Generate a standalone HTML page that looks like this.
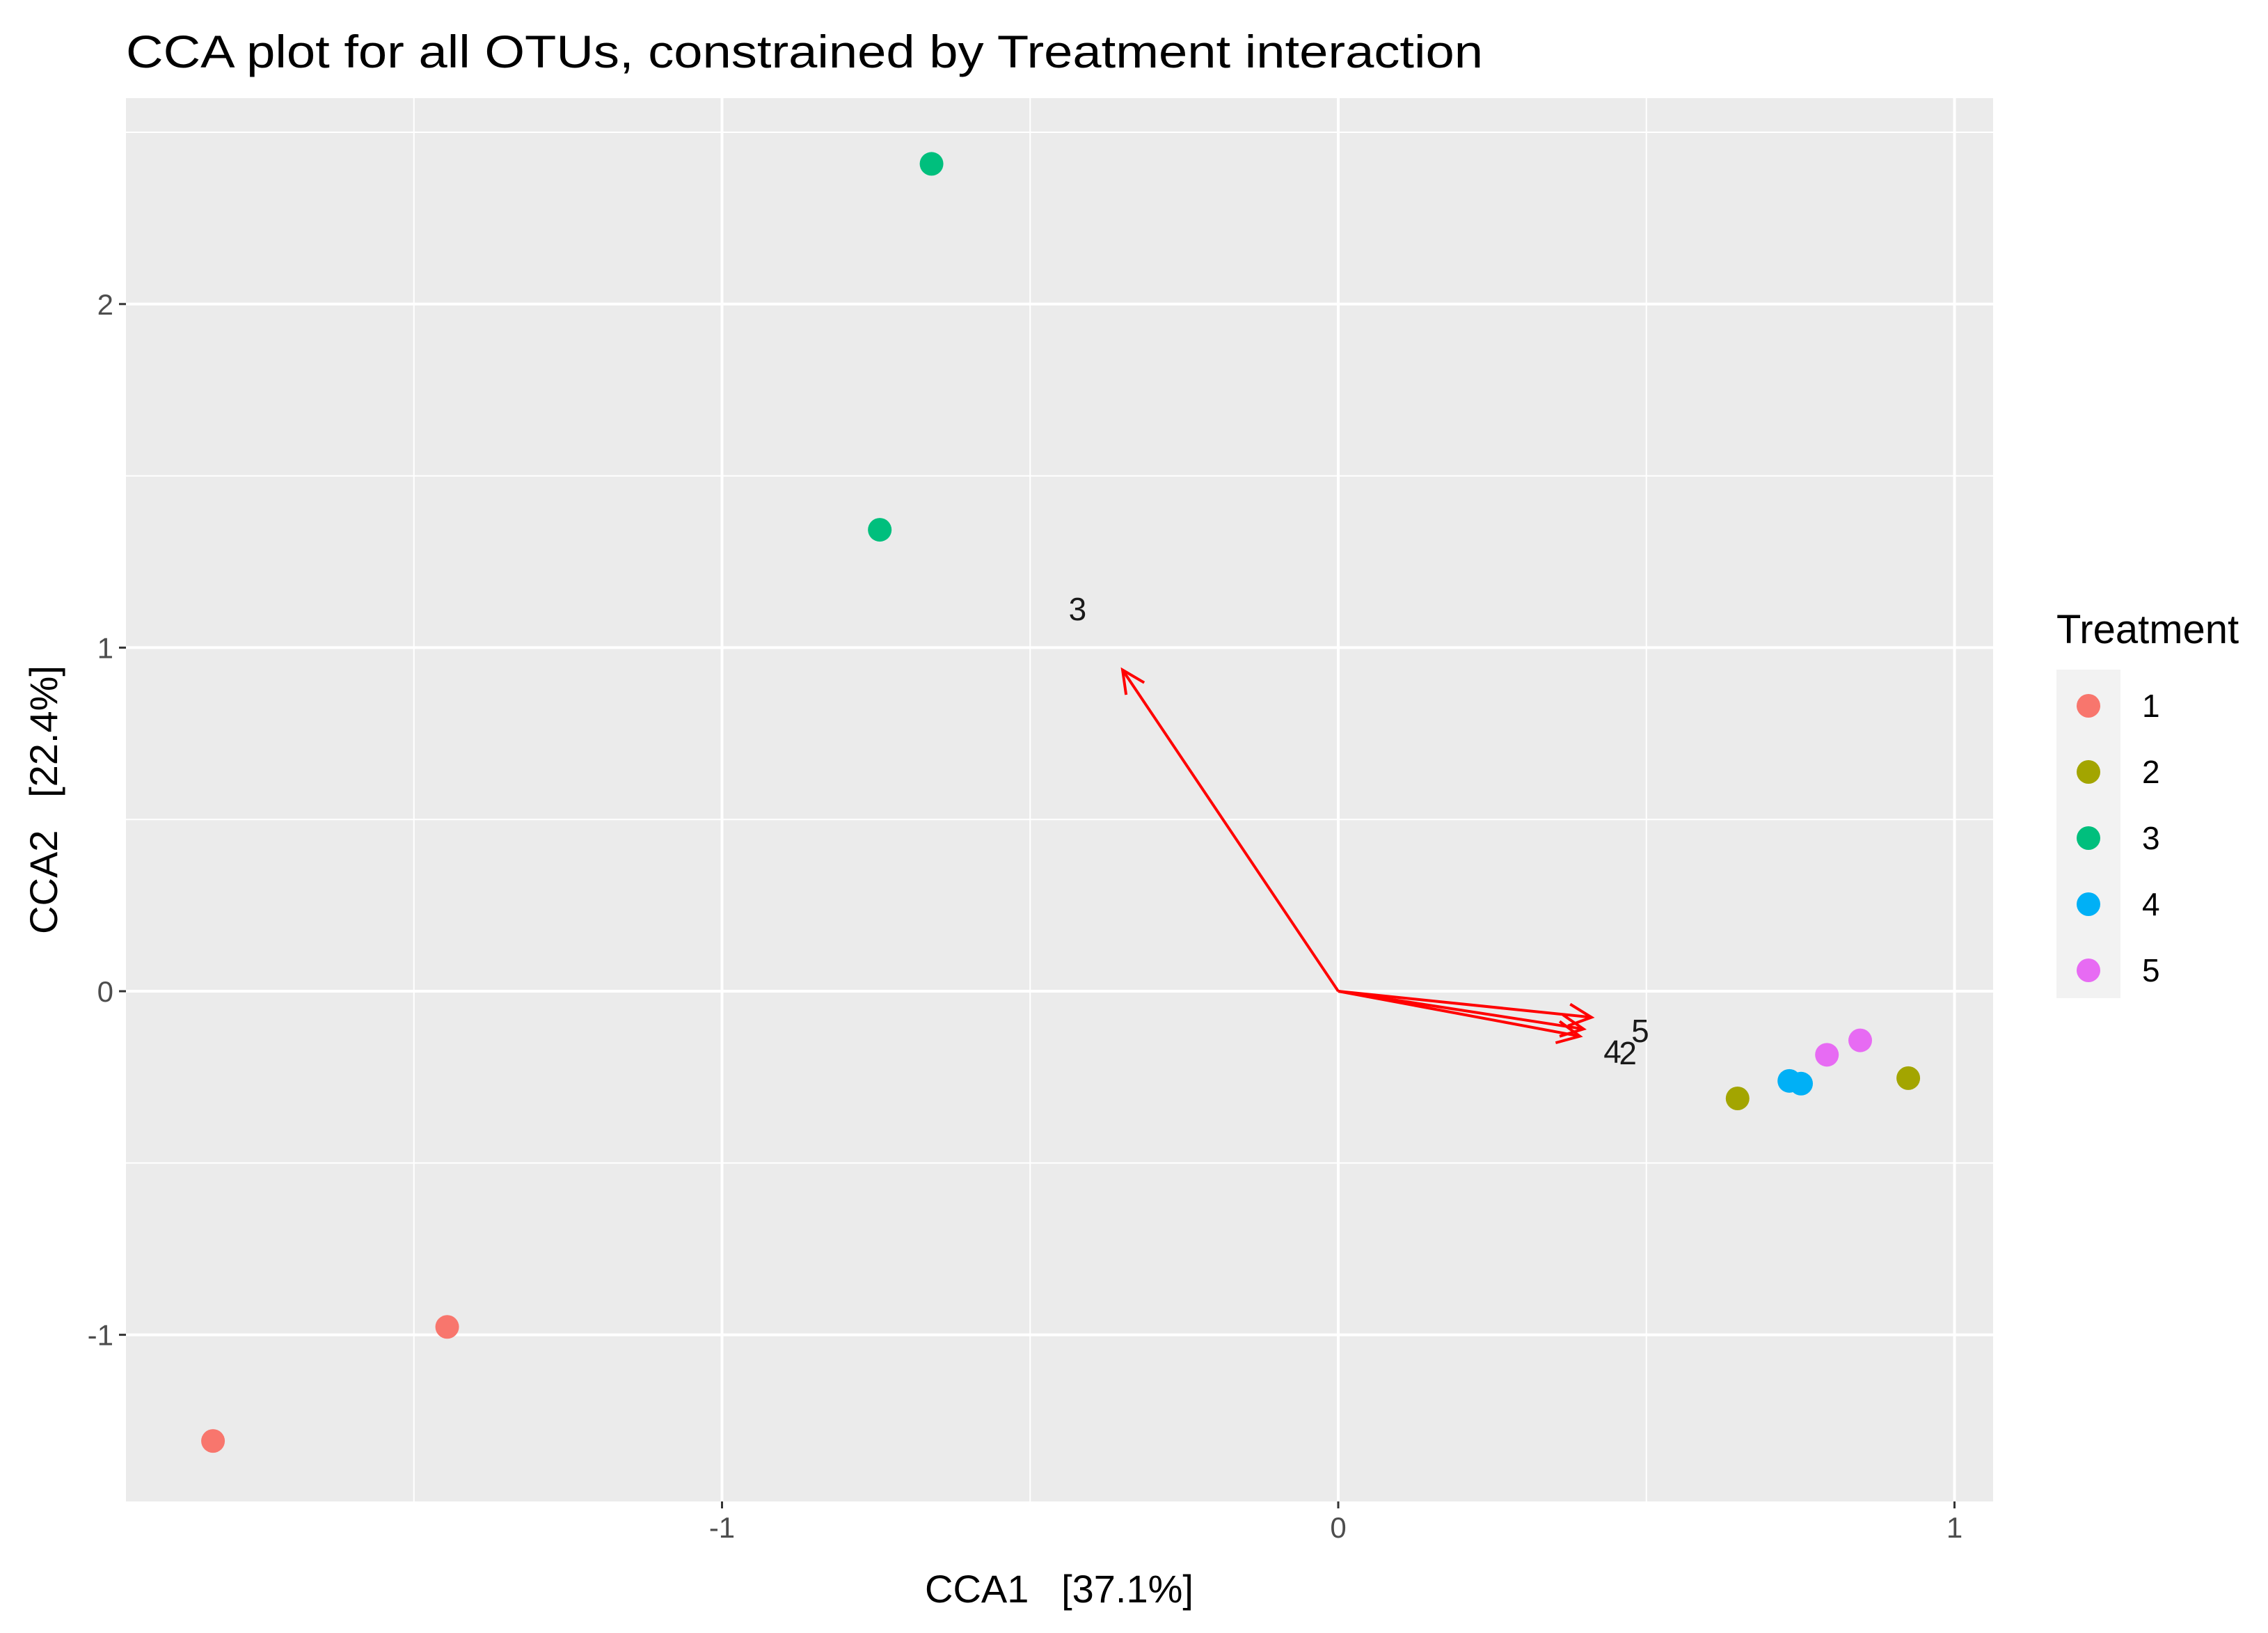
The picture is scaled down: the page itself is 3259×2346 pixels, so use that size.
<!DOCTYPE html>
<html><head><meta charset="utf-8"><style>
html,body{margin:0;padding:0;background:#fff;}
svg{display:block;font-family:"Liberation Sans",Arial,sans-serif;}
.pre{white-space:pre;}
</style></head><body>
<svg id="chart" width="3259" height="2346" viewBox="0 0 3259 2346" xmlns="http://www.w3.org/2000/svg">
<rect width="3259" height="2346" fill="#fff"/>
<text x="181" y="97" font-size="66" textLength="1950" lengthAdjust="spacingAndGlyphs" fill="#000">CCA plot for all OTUs, constrained by Treatment interaction</text>
<rect x="181" y="141" width="2683" height="2016" fill="#ebebeb"/>
<g id="grid"></g>
<g id="arrows"></g>
<g id="points"></g>
<g id="axes"></g>
<text class="pre" x="1522" y="2302" font-size="56" text-anchor="middle" fill="#000">CCA1   [37.1%]</text>
<text class="pre" transform="translate(82,1149) rotate(-90)" font-size="56" text-anchor="middle" fill="#000">CCA2   [22.4%]</text>
<text x="2955" y="924" font-size="58" fill="#000">Treatment</text>
<rect x="2955" y="962" width="92" height="472" fill="#f2f2f2"/>
<g id="legend"></g>
</svg>
<script>
const categories = ["1","2","3","4","5"];
const colors = ["#F8766D","#A3A500","#00BF7D","#00B0F6","#E76BF3"];
const ptX = [-1.446,-1.826, 0.648,0.925, -0.660,-0.744, 0.732,0.751, 0.793,0.847];
const ptY = [-0.977,-1.309, -0.312,-0.253, 2.408,1.343, -0.261,-0.269, -0.185,-0.143];
const ptGroup = ["1","1","2","2","3","3","4","4","5","5"];
const arrowNames = ["3","5","4","2"];
const arrowX = [-0.350,0.411,0.392,0.398];
const arrowY = [0.935,-0.076,-0.131,-0.110];
const labelX = [-0.423,0.490,0.445,0.470];
const labelY = [1.112,-0.115,-0.175,-0.180];
const xTicks = [-1,0,1];
const yTicks = [-1,0,1,2];
const xMinor = [-1.5,-0.5,0.5];
const yMinor = [-0.5,0.5,1.5,2.5];

const NS="http://www.w3.org/2000/svg";
const X0=1923, XU=885.5, Y0=1424, YU=493.6;
const L=181,R=2864,T=141,B=2157;
function sx(v){return X0+v*XU;}
function sy(v){return Y0-v*YU;}
function mk(tag,attrs,parent){const e=document.createElementNS(NS,tag);for(const k in attrs)e.setAttribute(k,attrs[k]);parent.appendChild(e);return e;}
const grid=document.getElementById('grid'),axes=document.getElementById('axes');
xMinor.forEach(v=>{const l=mk('line',{x1:sx(v),x2:sx(v),y1:T,y2:B,stroke:'#fff','stroke-width':2},grid);

});
yMinor.forEach(v=>{const l=mk('line',{x1:L,x2:R,y1:sy(v),y2:sy(v),stroke:'#fff','stroke-width':2},grid);

});
xTicks.forEach(v=>{const l=mk('line',{x1:sx(v),x2:sx(v),y1:T,y2:B,stroke:'#fff','stroke-width':4},grid);


const t=mk('line',{x1:sx(v),x2:sx(v),y1:B,y2:B+10,stroke:'#333','stroke-width':3},axes);


const tx=mk('text',{x:sx(v),y:B+52,'font-size':42,'text-anchor':'middle',fill:'#4d4d4d'},axes);tx.textContent=String(v);

});
yTicks.forEach(v=>{const l=mk('line',{x1:L,x2:R,y1:sy(v),y2:sy(v),stroke:'#fff','stroke-width':4},grid);


const t=mk('line',{x1:L-10,x2:L,y1:sy(v),y2:sy(v),stroke:'#333','stroke-width':3},axes);


const tx=mk('text',{x:L-18,y:sy(v)+15,'font-size':42,'text-anchor':'end',fill:'#4d4d4d'},axes);tx.textContent=String(v);

});
const ar=document.getElementById('arrows');
arrowNames.forEach((n,i)=>{const x1=sx(0),y1=sy(0),x2=sx(arrowX[i]),y2=sy(arrowY[i]);
const g=mk('g',{},ar);


mk('line',{x1:x1,y1:y1,x2:x2,y2:y2,stroke:'#ff0000','stroke-width':4},g);
const a=Math.atan2(y2-y1,x2-x1),h=36,sp=0.45;
mk('polyline',{points:`${x2-h*Math.cos(a-sp)},${y2-h*Math.sin(a-sp)} ${x2},${y2} ${x2-h*Math.cos(a+sp)},${y2-h*Math.sin(a+sp)}`,fill:'none',stroke:'#ff0000','stroke-width':4},g);
const t=mk('text',{x:sx(labelX[i]),y:sy(labelY[i])+16,'font-size':46,'text-anchor':'middle',fill:'#1a1a1a'},ar);t.textContent=n;

});
const pts=document.getElementById('points');
ptX.forEach((v,i)=>{const c=mk('circle',{cx:sx(v),cy:sy(ptY[i]),r:17,fill:colors[categories.indexOf(ptGroup[i])]},pts);

});
const lg=document.getElementById('legend');
categories.forEach((c,i)=>{const y=1014+i*95;
const d=mk('circle',{cx:3001,cy:y,r:17,fill:colors[i]},lg);


const t=mk('text',{x:3078,y:y+16,'font-size':46,fill:'#000'},lg);t.textContent=c;

});
</script>
</body></html>
